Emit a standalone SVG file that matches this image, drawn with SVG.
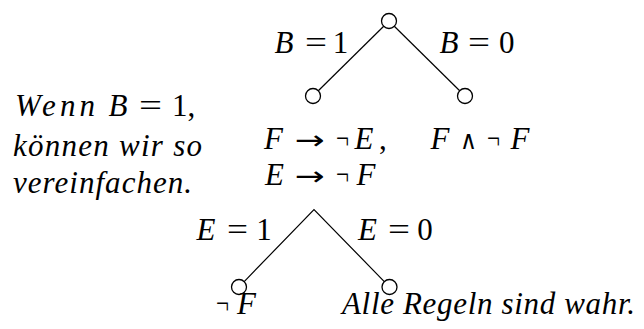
<svg xmlns="http://www.w3.org/2000/svg" width="644" height="329" viewBox="0 0 644 329">
<rect width="644" height="329" fill="#fff"/>
<g id="connectors" stroke="#000" stroke-width="1.2" fill="none">
<line x1="383.7" y1="26.3" x2="318.3" y2="90.7"/>
<line x1="394.3" y1="26.3" x2="459.7" y2="90.7"/>
<polyline points="244.2,281.6 314,209.5 384.3,281.6"/>
</g>
<g fill="#fff" stroke="#000" stroke-width="1.3">
<g id="root"><circle cx="389" cy="21" r="7.5"/></g>
<g id="b1"><circle cx="313" cy="96" r="7.5"/></g>
<g id="b0"><circle cx="465" cy="96" r="7.5"/></g>
<g id="e1"><circle cx="239" cy="287" r="7.5"/></g>
<g id="e0"><circle cx="389.5" cy="287" r="7.5"/></g>
</g>
<g id="labels">
<text font-family="Liberation Serif" font-size="31" font-style="italic" text-anchor="middle" x="284" y="53">B</text>
<text font-family="Liberation Serif" font-size="31" x="305" y="53" textLength="22" lengthAdjust="spacingAndGlyphs">=</text>
<text font-family="Liberation Serif" font-size="31" text-anchor="middle" x="340.5" y="53">1</text>
<text font-family="Liberation Serif" font-size="31" font-style="italic" text-anchor="middle" x="449" y="53">B</text>
<text font-family="Liberation Serif" font-size="31" x="468" y="53" textLength="22" lengthAdjust="spacingAndGlyphs">=</text>
<text font-family="Liberation Serif" font-size="31" text-anchor="middle" x="506.7" y="53">0</text>
<text font-family="Liberation Serif" font-size="31" font-style="italic" text-anchor="middle" x="206" y="240">E</text>
<text font-family="Liberation Serif" font-size="31" x="227" y="240" textLength="21" lengthAdjust="spacingAndGlyphs">=</text>
<text font-family="Liberation Serif" font-size="31" text-anchor="middle" x="264" y="240">1</text>
<text font-family="Liberation Serif" font-size="31" font-style="italic" text-anchor="middle" x="367.5" y="240">E</text>
<text font-family="Liberation Serif" font-size="31" x="388" y="240" textLength="22" lengthAdjust="spacingAndGlyphs">=</text>
<text font-family="Liberation Serif" font-size="31" text-anchor="middle" x="425" y="240">0</text>
</g>
<g id="note">
<text font-family="Liberation Serif" font-size="31" font-style="italic" x="15" y="116" textLength="80" lengthAdjust="spacing">Wenn</text>
<text font-family="Liberation Serif" font-size="31" font-style="italic" text-anchor="middle" x="118" y="116">B</text>
<text font-family="Liberation Serif" font-size="31" x="139" y="116" textLength="23" lengthAdjust="spacingAndGlyphs">=</text>
<text font-family="Liberation Serif" font-size="31" x="172" y="116">1,</text>
<text font-family="Liberation Serif" font-size="31" font-style="italic" x="13" y="156" textLength="189" lengthAdjust="spacing">können wir so</text>
<text font-family="Liberation Serif" font-size="31" font-style="italic" x="13" y="193" textLength="179" lengthAdjust="spacing">vereinfachen.</text>
</g>
<g id="rules">
<text font-family="Liberation Serif" font-size="31" font-style="italic" text-anchor="middle" x="273.5" y="149">F</text>
<text font-family="DejaVu Sans" font-size="26" x="295" y="149" textLength="30" lengthAdjust="spacingAndGlyphs">→</text>
<text font-family="Liberation Serif" font-size="31" x="336" y="149" textLength="13" lengthAdjust="spacingAndGlyphs">¬</text>
<text font-family="Liberation Serif" font-size="31" font-style="italic" text-anchor="middle" x="364" y="149">E</text>
<text font-family="Liberation Serif" font-size="31" x="379" y="149">,</text>
<text font-family="Liberation Serif" font-size="31" font-style="italic" text-anchor="middle" x="440" y="149">F</text>
<text font-family="DejaVu Sans" font-size="26" x="460" y="149" textLength="17" lengthAdjust="spacingAndGlyphs">∧</text>
<text font-family="Liberation Serif" font-size="31" x="487" y="149" textLength="13" lengthAdjust="spacingAndGlyphs">¬</text>
<text font-family="Liberation Serif" font-size="31" font-style="italic" text-anchor="middle" x="520" y="149">F</text>
<text font-family="Liberation Serif" font-size="31" font-style="italic" text-anchor="middle" x="274.5" y="185">E</text>
<text font-family="DejaVu Sans" font-size="26" x="295" y="185" textLength="30" lengthAdjust="spacingAndGlyphs">→</text>
<text font-family="Liberation Serif" font-size="31" x="336" y="185" textLength="13" lengthAdjust="spacingAndGlyphs">¬</text>
<text font-family="Liberation Serif" font-size="31" font-style="italic" text-anchor="middle" x="366" y="185">F</text>
</g>
<g id="leaves">
<text font-family="Liberation Serif" font-size="31" x="216" y="314" textLength="13" lengthAdjust="spacingAndGlyphs">¬</text>
<text font-family="Liberation Serif" font-size="31" font-style="italic" text-anchor="middle" x="246.5" y="314">F</text>
<text font-family="Liberation Serif" font-size="31" font-style="italic" x="342" y="314" textLength="293" lengthAdjust="spacing">Alle Regeln sind wahr.</text>
</g>
</svg>
